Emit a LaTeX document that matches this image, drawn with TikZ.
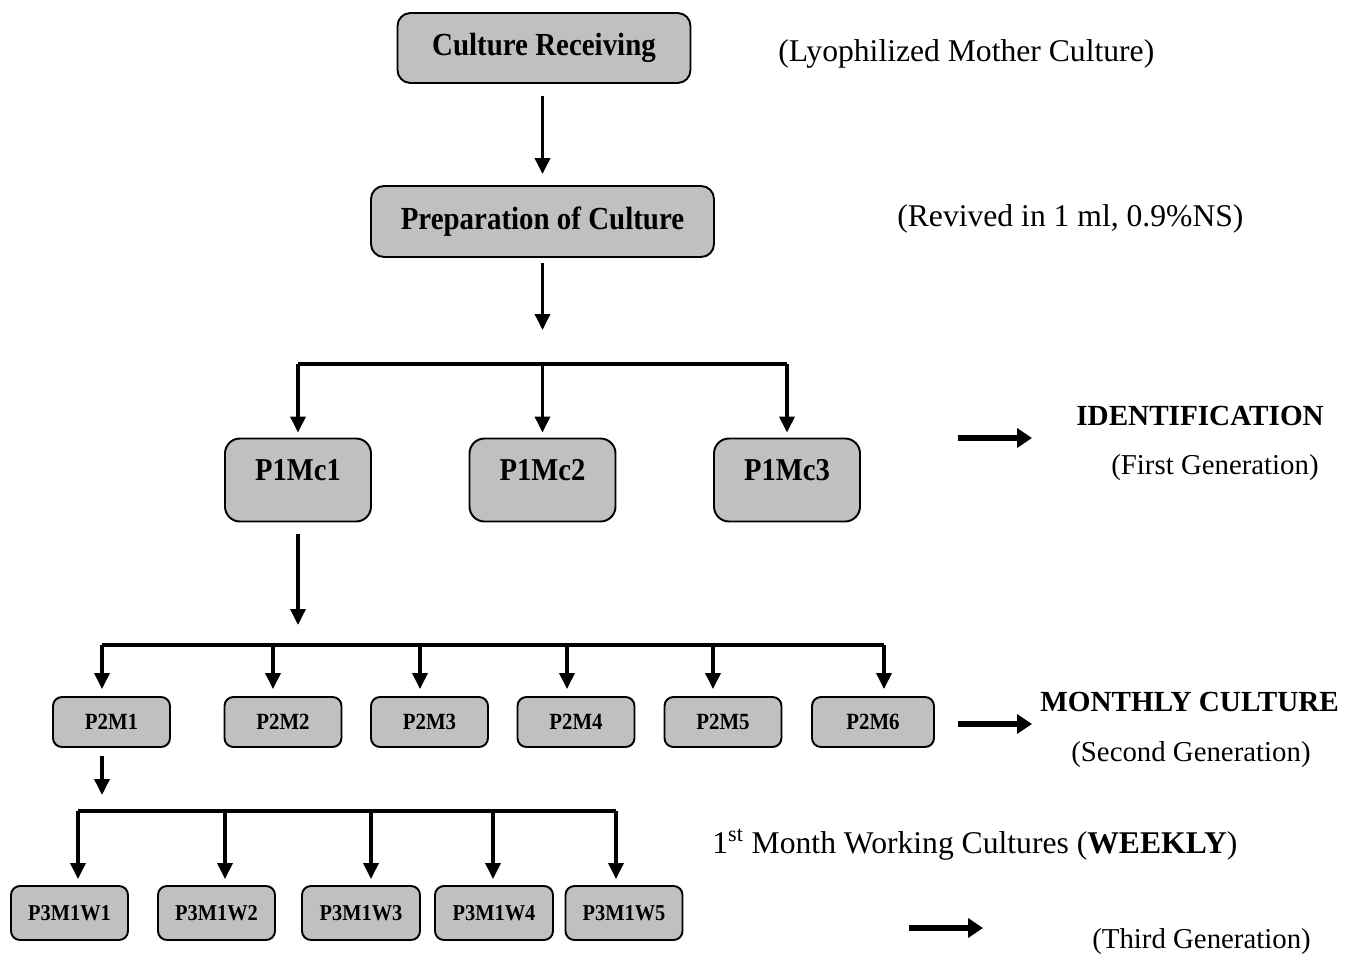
\documentclass[tikz,border=0pt]{standalone}
\usepackage{fontspec}
\usepackage{graphicx}
\setmainfont{Liberation Serif}
\usetikzlibrary{arrows.meta}
\definecolor{boxgray}{RGB}{192,192,192}
\def\pxu{0.02cm}
\newcommand{\cnd}[1]{\scalebox{0.9}[1]{#1}}
\begin{document}
\begin{tikzpicture}[x=0.02cm,y=-0.02cm,
  box/.style={draw=black, fill=boxgray, line width=1.1pt, inner sep=0pt, align=center},
  bigbox/.style={box, rounded corners=0.26cm, font=\fontsize{18.3}{21}\selectfont\bfseries},
  midbox/.style={box, rounded corners=0.3cm, minimum width=146*\pxu, minimum height=83*\pxu, font=\fontsize{18.1}{21}\selectfont\bfseries},
  smallbox/.style={box, rounded corners=0.18cm, minimum width=117*\pxu, minimum height=50*\pxu, font=\fontsize{13.2}{15}\selectfont\bfseries},
  tinybox/.style={box, rounded corners=0.18cm, minimum width=117*\pxu, minimum height=54*\pxu, font=\fontsize{12.9}{15}\selectfont\bfseries},
  conn/.style={line width=2pt},
  arr/.style={line width=2pt, -{Triangle[width=0.3cm,length=0.32cm]}},
  thickarr/.style={line width=3.4pt, -{Triangle[width=0.38cm,length=0.3cm]}},
  note/.style={anchor=base west, inner sep=0pt, font=\fontsize{16.4}{19}\selectfont},
  bignote/.style={anchor=base west, inner sep=0pt, font=\fontsize{18}{21}\selectfont}
]
\useasboundingbox (0,0) rectangle (1348,953);

% top chain
\node[bigbox, minimum width=293*\pxu, minimum height=70*\pxu] (cr) at (544,48) {\raisebox{0.16cm}{\cnd{Culture Receiving}}};
\node[bigbox, minimum width=343*\pxu, minimum height=71*\pxu] (prep) at (542.5,221.5) {\raisebox{0.12cm}{\cnd{Preparation of Culture}}};
\draw[arr, shorten <=12*\pxu, shorten >=11*\pxu] (prep.north |- cr.south) -- (prep.north);
\coordinate (a2end) at (542.5,330);
\draw[arr, shorten <=5*\pxu] (prep.south) -- (a2end);

% first generation
\node[midbox] (p11) at (298,480) {\raisebox{0.4cm}{\cnd{P1Mc1}}};
\node[midbox] (p12) at (542.5,480) {\raisebox{0.4cm}{\cnd{P1Mc2}}};
\node[midbox] (p13) at (787,480) {\raisebox{0.4cm}{\cnd{P1Mc3}}};
\coordinate (b1l) at (298,364);
\coordinate (b1m) at (542.5,364);
\coordinate (b1r) at (787,364);
\draw[conn] (b1l) -- (b1r);
\draw[arr, shorten >=5*\pxu] (b1l) -- (p11.north);
\draw[arr, shorten >=5*\pxu] (b1m) -- (p12.north);
\draw[arr, shorten >=5*\pxu] (b1r) -- (p13.north);

% second generation
\coordinate (a3end) at (298,625);
\draw[arr, shorten <=12*\pxu] (p11.south) -- (a3end);
\node[smallbox] (p21) at (111.5,722) {\cnd{P2M1}};
\node[smallbox] (p22) at (283,722) {\cnd{P2M2}};
\node[smallbox] (p23) at (429.5,722) {\cnd{P2M3}};
\node[smallbox] (p24) at (576,722) {\cnd{P2M4}};
\node[smallbox] (p25) at (723,722) {\cnd{P2M5}};
\node[smallbox, minimum width=122*\pxu] (p26) at (873,722) {\cnd{P2M6}};
\coordinate (c1) at (102,645);
\coordinate (c2) at (273,645);
\coordinate (c3) at (420,645);
\coordinate (c4) at (567,645);
\coordinate (c5) at (713,645);
\coordinate (c6) at (884,645);
\draw[conn] (c1) -- (c6);
\foreach \i in {1,...,6}{
  \draw[arr, shorten >=7*\pxu] (c\i) -- (c\i |- p2\i.north);
}

% third generation
\coordinate (a4s) at (102,747);
\coordinate (a4end) at (102,795);
\draw[arr, shorten <=8*\pxu] (a4s |- p21.south) -- (a4end);
\node[tinybox] (p31) at (69.5,913) {\cnd{P3M1W1}};
\node[tinybox] (p32) at (216.5,913) {\cnd{P3M1W2}};
\node[tinybox, minimum width=118*\pxu] (p33) at (361,913) {\cnd{P3M1W3}};
\node[tinybox, minimum width=118*\pxu] (p34) at (494,913) {\cnd{P3M1W4}};
\node[tinybox] (p35) at (624,913) {\cnd{P3M1W5}};
\coordinate (d1) at (78,811);
\coordinate (d2) at (225,811);
\coordinate (d3) at (371,811);
\coordinate (d4) at (493,811);
\coordinate (d5) at (616,811);
\draw[conn] (d1) -- (d5);
\foreach \i in {1,...,5}{
  \draw[arr, shorten >=6*\pxu] (d\i) -- (d\i |- p3\i.north);
}

% right side annotations
\node[bignote] (n1) at (778,62) {(Lyophilized Mother Culture)};
\node[bignote] (n2) at (897,226) {(Revived in 1 ml, 0.9\%NS)};

\coordinate (r1s) at (958,438);
\coordinate (r1e) at (1032,438);
\draw[thickarr] (r1s) -- (r1e);
\node[note, font=\fontsize{16.6}{19}\selectfont\bfseries] (n3) at (1076,425) {IDENTIFICATION};
\node[note] (n4) at (1111,474) {(First Generation)};

\coordinate (r2s) at (958,724);
\coordinate (r2e) at (1032,724);
\draw[thickarr] (r2s) -- (r2e);
\node[note, font=\fontsize{16.6}{19}\selectfont\bfseries] (n5) at (1040,711) {MONTHLY CULTURE};
\node[note] (n6) at (1071,761) {(Second Generation)};

\node[bignote] (n7) at (712,853) {1\textsuperscript{st} Month Working Cultures (\textbf{WEEKLY})};
\coordinate (r3s) at (909,928);
\coordinate (r3e) at (983,928);
\draw[thickarr] (r3s) -- (r3e);
\node[note] (n8) at (1092,948) {(Third Generation)};
\end{tikzpicture}
\end{document}
